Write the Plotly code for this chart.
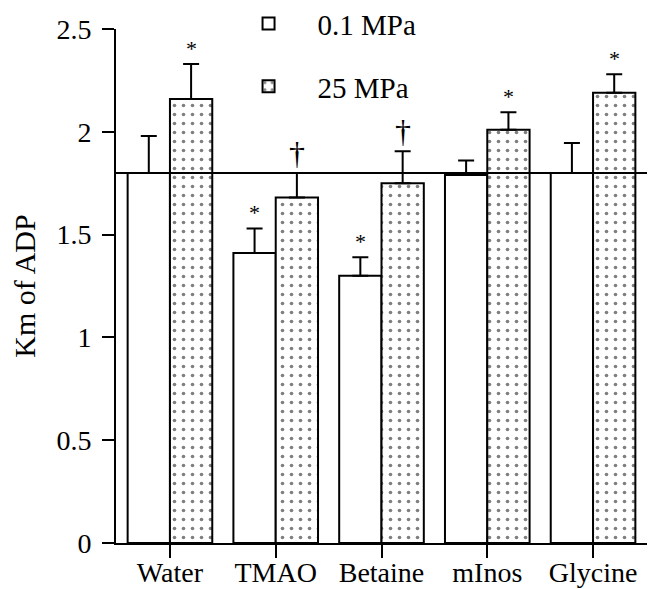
import plotly.graph_objects as go

categories = ["Water", "TMAO", "Betaine", "mInos", "Glycine"]
km_01 = [1.80, 1.41, 1.30, 1.79, 1.80]
err_01 = [0.18, 0.12, 0.09, 0.07, 0.145]
km_25 = [2.16, 1.68, 1.75, 2.01, 2.19]
err_25 = [0.17, 0.12, 0.155, 0.085, 0.09]
marks_01 = ["", "*", "*", "", ""]
marks_25 = ["*", "†", "†", "*", "*"]
reference_level = 1.80
y_ticks = [0, 0.5, 1, 1.5, 2, 2.5]
y_ticklabels = ["0", "0.5", "1", "1.5", "2", "2.5"]

FONT = "Liberation Serif, Times New Roman, serif"
xpos = list(range(len(categories)))

fig = go.Figure()
fig.add_trace(go.Bar(
    name="0.1 MPa", x=xpos, y=km_01, legendgroup="a",
    marker=dict(color="white", line=dict(color="black", width=2)),
    error_y=dict(type="data", array=err_01, arrayminus=[0]*5, symmetric=False,
                 color="black", thickness=2, width=8),
))
fig.add_trace(go.Bar(
    name="25 MPa", x=xpos, y=km_25, legendgroup="b",
    marker=dict(color="white", line=dict(color="black", width=2),
                pattern=dict(shape=".", fgcolor="black", bgcolor="white",
                             size=9, solidity=0.13)),
    error_y=dict(type="data", array=err_25, arrayminus=[0]*5, symmetric=False,
                 color="black", thickness=2, width=8),
))

annotations = []
for i in xpos:
    for off, vals, errs, marks in ((-0.2, km_01, err_01, marks_01), (0.2, km_25, err_25, marks_25)):
        m = marks[i]
        if m:
            annotations.append(dict(
                x=i + off, y=vals[i] + errs[i], xref="x", yref="y",
                text=m, showarrow=False, yanchor="bottom",
                yshift=0 if m == "†" else 1,
                font=dict(family=FONT, size=32 if m == "†" else 22, color="black"),
            ))

fig.add_shape(type="line", xref="paper", yref="y", x0=0, x1=1,
              y0=reference_level, y1=reference_level,
              line=dict(color="black", width=2), layer="above")

fig.update_layout(
    width=652, height=581,
    margin=dict(l=108, r=13, t=21, b=46, autoexpand=False),
    paper_bgcolor="white", plot_bgcolor="white",
    barmode="group", bargap=0.2, bargroupgap=0,
    font=dict(family=FONT, size=28, color="black"),
    showlegend=True,
    legend=dict(x=0.195, y=1.06, xanchor="left", yanchor="top",
                bgcolor="rgba(0,0,0,0)", tracegroupgap=22, itemwidth=88,
                font=dict(family=FONT, size=29)),
    annotations=annotations,
    xaxis=dict(range=[-0.51, 4.51], tickmode="array", tickvals=xpos,
               ticktext=categories, showline=True, linecolor="black",
               linewidth=2, ticks="outside", ticklen=13, tickwidth=2,
               tickcolor="black", showgrid=False, zeroline=False,
               ticklabelstandoff=-10,
               tickfont=dict(family=FONT, size=28)),
    yaxis=dict(range=[0, 2.5], tickmode="array", tickvals=y_ticks,
               ticktext=y_ticklabels, showline=True, linecolor="black",
               linewidth=2, ticks="outside", ticklen=12, tickwidth=2,
               tickcolor="black", showgrid=False, zeroline=False,
               ticklabelstandoff=5,
               title=dict(text="Km of ADP", font=dict(family=FONT, size=30),
                          standoff=22),
               tickfont=dict(family=FONT, size=28)),
)

fig.write_html("out.html")
